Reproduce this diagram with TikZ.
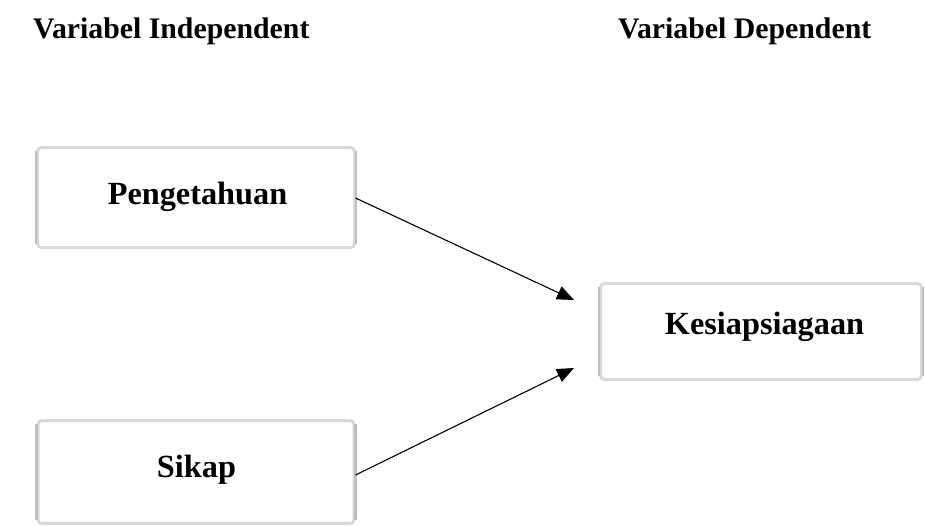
\documentclass[tikz,border=0pt]{standalone}
\usepackage{fontspec}
\setmainfont{Liberation Serif}
\usetikzlibrary{arrows.meta}
\tikzset{
  vbox/.style={draw=gray!30, line width=3pt, fill=white, rounded corners=4pt, inner sep=0pt},
  vside/.style={draw=gray!50, line width=2.5pt},
  boxtext/.style={anchor=base, inner sep=0pt, font=\bfseries\fontsize{32.3}{35}\selectfont},
  titletext/.style={anchor=base west, inner sep=0pt, font=\bfseries\fontsize{29.8}{32}\selectfont},
  conn/.style={line width=1.1pt, -{Triangle[length=17pt,width=14pt]}}
}
\begin{document}
\begin{tikzpicture}[x=1pt,y=-1pt]
\useasboundingbox[fill=white] (0,0) rectangle (925,525);
\node[titletext] (tind) at (33,38) {Variabel Independent};
\node[titletext] (tdep) at (618,38) {Variabel Dependent};
% boxes
\node[vbox, minimum width=317pt, minimum height=100pt] (peng) at (196,197.5) {};
\node[vbox, minimum width=321pt, minimum height=96pt] (kes) at (761,331.5) {};
\node[vbox, minimum width=316pt, minimum height=103pt] (sik) at (196,472) {};
\foreach \n in {peng,kes,sik}{
  \draw[vside] ([yshift=-5pt]\n.north west) -- ([yshift=5pt]\n.south west);
  \draw[vside] ([yshift=-5pt]\n.north east) -- ([yshift=5pt]\n.south east);
}
\node[boxtext] (lpeng) at (197.5,204) {Pengetahuan};
\node[boxtext] (lkes) at (764.5,334) {Kesiapsiagaan};
\node[boxtext] (lsik) at (196.5,477) {Sikap};
% arrows
\coordinate (a1s) at (355.5,198);
\coordinate (a1e) at (574,300);
\coordinate (a2s) at (355.5,475);
\coordinate (a2e) at (574,368);
\draw[conn] (a1s) -- (a1e);
\draw[conn] (a2s) -- (a2e);
\end{tikzpicture}
\end{document}
